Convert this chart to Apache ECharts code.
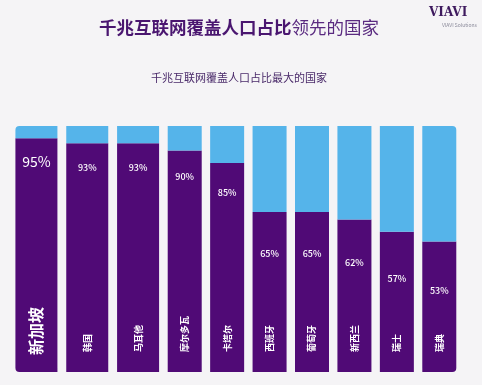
<!DOCTYPE html>
<html><head><meta charset="utf-8">
<script src="https://cdn.jsdelivr.net/npm/echarts@6/dist/echarts.min.js"></script>
<style>html,body{margin:0;padding:0;background:#f5f4f6}#c{width:482px;height:385px}</style>
</head><body><div id="c"></div>
<script>
const countries = ['新加坡','韩国','马耳他','摩尔多瓦','卡塔尔','西班牙','葡萄牙','新西兰','瑞士','瑞典'];
const coverage = [95, 93, 93, 90, 85, 65, 65, 62, 57, 53];
const titleBold = '千兆互联网覆盖人口占比';
const titleLight = '领先的国家';
const subtitle = '千兆互联网覆盖人口占比最大的国家';

const PURPLE = '#500a76', BLUE = '#55b4ea';
const FONT = '"Noto Sans CJK SC","Noto Sans",sans-serif';
const split = 3;
const n = countries.length;

function pctLabel(v, i) {
  const fs = i === 0 ? 14 : 9;
  return {
    show: true, position: 'insideTop', color: '#fff',
    fontSize: fs, fontWeight: i === 0 ? 'normal' : 500, fontFamily: FONT,
    distance: 24 + 0.62 * (95 - v) - fs / 2 - 1,
    formatter: v + '%'
  };
}

function makeSeries(gi, from, to, bw) {
  const purple = [], blue = [];
  for (let i = from; i < to; i++) {
    const v = coverage[i];
    const p = { value: v, label: pctLabel(v, i) };
    const b = { value: 100 - v };
    if (i === 0) { p.itemStyle = { borderRadius: [0,0,0,4] }; b.itemStyle = { borderRadius: [4,0,0,0] }; }
    if (i === n - 1) { p.itemStyle = { borderRadius: [0,0,4,0] }; b.itemStyle = { borderRadius: [0,4,0,0] }; }
    purple.push(p); blue.push(b);
  }
  return [
    { type: 'bar', xAxisIndex: gi, yAxisIndex: gi, stack: 's' + gi, barWidth: bw,
      itemStyle: { color: PURPLE }, data: purple, silent: true },
    { type: 'bar', xAxisIndex: gi, yAxisIndex: gi, stack: 's' + gi, barWidth: bw,
      itemStyle: { color: BLUE }, data: blue, silent: true }
  ];
}

function xAxis(gi, from, to) {
  return {
    type: 'category', gridIndex: gi, data: countries.slice(from, to), z: 10,
    axisLine: { show: false }, axisTick: { show: false },
    axisLabel: {
      inside: true, rotate: 90, margin: 17, interval: 0, color: '#fff',
      formatter: (v) => v === countries[0] ? '{big|' + v + '}' : '{sm|' + v + '}',
      rich: {
        big: { fontSize: 16, fontWeight: 'bold', color: '#fff', fontFamily: FONT },
        sm: { fontSize: 9, fontWeight: 'bold', color: '#fff', fontFamily: FONT, padding: [0, 0, 0, 3] }
      }
    }
  };
}
function yAxis(gi) {
  return { type: 'value', gridIndex: gi, min: 0, max: 100, show: false };
}

const chart = echarts.init(document.getElementById('c'), null, { renderer: 'canvas' });
chart.setOption({
  backgroundColor: '#f5f4f6',
  animation: false,
  title: [
    { text: '{b|' + titleBold + '}{l|' + titleLight + '}', left: 94, top: 14,
      textStyle: { rich: {
        b: { fontSize: 17.5, fontWeight: 'bold', color: '#4a1670', fontFamily: FONT },
        l: { fontSize: 17.5, fontWeight: 'normal', color: '#5a2a80', fontFamily: FONT }
      } } },
    { text: subtitle, left: 146, top: 67,
      textStyle: { fontSize: 11, fontWeight: 'normal', color: '#4a2a6a', fontFamily: FONT } }
  ],
  graphic: [
    { type: 'text', left: 429, top: 7, style: { text: 'VIAVI', fontSize: 12, fontWeight: 'bold',
      fontFamily: '"DejaVu Serif",serif', fill: '#3e1a5e' } },
    { type: 'text', left: 442, top: 23, style: { text: 'VIAVI Solutions', fontSize: 5,
      fontFamily: FONT, fill: '#8a8a9a' } }
  ],
  grid: [
    { left: 11, width: 152.5, top: 126, bottom: 13 },
    { left: 163.5, width: 297, top: 126, bottom: 13 }
  ],
  xAxis: [xAxis(0, 0, split), xAxis(1, split, n)],
  yAxis: [yAxis(0), yAxis(1)],
  series: [...makeSeries(0, 0, split, 42), ...makeSeries(1, split, n, 34)]
});
</script></body></html>
